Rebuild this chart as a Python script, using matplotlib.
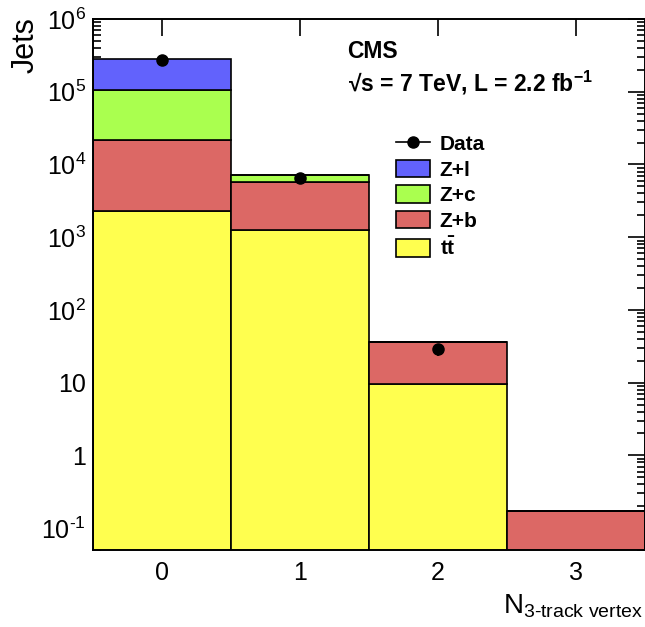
import numpy as np
import matplotlib
matplotlib.use("Agg")
import matplotlib.pyplot as plt
from matplotlib.lines import Line2D
from matplotlib.patches import Patch
from matplotlib.ticker import FixedLocator, LogLocator, NullFormatter, FuncFormatter

# ---------- DATA ----------
bins = [0, 1, 2, 3]
ttbar = [2280, 1240, 9.5, 0]
z_b = [19620, 4540, 26.4, 0.17]
z_c = [82100, 1280, 0, 0]
z_l = [174000, 30, 0, 0]
data_x = [0, 1, 2]
data_y = [270000, 6560, 28.8]

labels = ["Z+l", "Z+c", "Z+b", r"$\mathbf{t\bar{t}}$"]
colors = ["#6262fc", "#aaff4f", "#dc6865", "#ffff4f"]

# ---------- STYLE ----------
plt.rcParams["font.family"] = ["Liberation Sans", "DejaVu Sans"]
plt.rcParams["mathtext.fontset"] = "custom"
plt.rcParams["mathtext.rm"] = "Liberation Sans"
plt.rcParams["mathtext.it"] = "Liberation Sans:italic"
plt.rcParams["mathtext.bf"] = "Liberation Sans:bold"

fig = plt.figure(figsize=(6.45, 6.27), dpi=100)
ax = fig.add_axes([93 / 645, 77 / 627, 552 / 645, 531 / 627])

# ---------- STACK ----------
stack = [ttbar, z_b, z_c, z_l]
stack_colors = colors[::-1]
bottom = np.zeros(len(bins))
for vals, col in zip(stack, stack_colors):
    vals = np.array(vals, dtype=float)
    ax.bar(bins, vals, width=1.0, bottom=bottom, color=col,
           edgecolor="black", linewidth=1.2, zorder=2)
    bottom = bottom + vals

ax.errorbar(data_x, data_y, yerr=np.sqrt(data_y), fmt="o", color="black",
            markersize=8, elinewidth=1.2, capsize=0, zorder=5)

# ---------- AXES ----------
ax.set_yscale("log")
ax.set_ylim(0.05, 1e6)
ax.set_xlim(-0.5, 3.5)
ax.xaxis.set_major_locator(FixedLocator(bins))
ax.yaxis.set_major_locator(LogLocator(base=10, numticks=20))
ax.yaxis.set_minor_locator(LogLocator(base=10, subs=np.arange(2, 10), numticks=20))
ax.yaxis.set_minor_formatter(NullFormatter())


def fmt(v, pos):
    e = int(round(np.log10(v)))
    if e == 0:
        return "1"
    if e == 1:
        return "10"
    return r"$\mathregular{10^{%s}}$" % str(e).replace("-", "\u2010")


ax.yaxis.set_major_formatter(FuncFormatter(fmt))
ax.tick_params(which="both", direction="in", top=True, right=True, width=1.2,
               labelsize=18)
ax.tick_params(which="major", length=12)
ax.tick_params(which="minor", length=6)
ax.tick_params(axis="x", pad=8)
ax.tick_params(axis="y", pad=5)
for sp in ax.spines.values():
    sp.set_linewidth(1.4)
    sp.set_zorder(6)

fig.text(26 / 645, 1 - 17 / 627, "Jets", rotation=90, ha="center", va="top",
         fontsize=22)
fig.text(643 / 645, 1 - 613 / 627, r"N$_{\mathregular{3\text{-}track\ vertex}}$",
         ha="right", va="baseline", fontsize=20)

# ---------- LABELS ----------
ax.text(0.46, 0.938, "CMS", transform=ax.transAxes, fontsize=16.5,
        fontweight="bold", va="center", ha="left")
ax.text(0.462, 0.879, r"√s = 7 TeV, L = 2.2 fb$^{\mathbf{-1}}$",
        transform=ax.transAxes, fontsize=16.5, fontweight="bold",
        va="center", ha="left")

handles = [Line2D([0], [0], color="black", marker="o", markersize=8, lw=1.2)]
handles += [Patch(facecolor=c, edgecolor="black", linewidth=1.2) for c in colors]
leg = ax.legend(handles, ["Data"] + labels, loc="upper left",
                bbox_to_anchor=((396 - 93) / 552, (550 - 134) / 531),
                frameon=False, prop={"weight": "bold", "size": 15},
                handlelength=1.65, handleheight=0.9, handletextpad=0.45,
                labelspacing=0.28, borderaxespad=0, borderpad=0)

plt.savefig("out.png", dpi=100)
